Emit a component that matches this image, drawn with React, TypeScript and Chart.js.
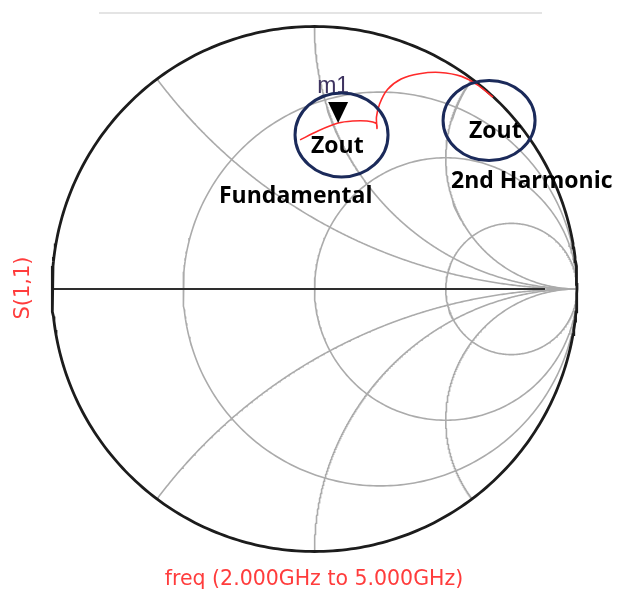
import React, { useEffect, useRef } from "react";
import { Chart, registerables } from "chart.js";

Chart.register(...registerables);

// ---- Smith chart grid values ----
const resistanceCircles = [0.333, 1, 3];
const reactanceArcs = [0.5, 1, 2, -0.5, -1, -2];

// ---- S(1,1) trace, reflection coefficient (real, imag), 2 GHz -> 5 GHz ----
const traceRe = [-0.055, 0.013, 0.09, 0.145, 0.2, 0.236, 0.238, 0.236, 0.248, 0.278, 0.33, 0.4, 0.478, 0.56, 0.625, 0.68];
const traceIm = [0.568, 0.602, 0.632, 0.64, 0.64, 0.63, 0.612, 0.655, 0.705, 0.76, 0.8, 0.82, 0.825, 0.81, 0.775, 0.731];
const markerIndex = 2; // m1

// ---- labels ----
const markerLabel = "m1";
const yTitle = "S(1,1)";
const xTitle = "freq (2.000GHz to 5.000GHz)";
const zoutLabel = "Zout";
const fundamentalLabel = "Fundamental";
const harmonicLabel = "2nd Harmonic";

// annotation ellipses in reflection-coefficient coordinates
const ellipseCentersRe = [0.103, 0.665];
const ellipseCentersIm = [0.587, 0.642];

const W = 618;
const H = 596;
const CX = 314.5;
const CY = 289;
const R = 262.5;

function rCirclePoints(r: number) {
  const c = r / (r + 1);
  const rad = 1 / (r + 1);
  const pts: { x: number; y: number }[] = [];
  for (let i = 0; i <= 360; i++) {
    const t = (i / 360) * Math.PI * 2;
    pts.push({ x: c + rad * Math.cos(t), y: rad * Math.sin(t) });
  }
  return pts;
}

function xArcPoints(x: number) {
  const pts: { x: number; y: number }[] = [];
  for (let i = 0; i <= 400; i++) {
    const r = Math.tan((i / 400) * 0.9995 * (Math.PI / 2));
    const d = (r + 1) * (r + 1) + x * x;
    pts.push({ x: (r * r + x * x - 1) / d, y: (2 * x) / d });
  }
  return pts;
}

export default function App() {
  const ref = useRef<HTMLCanvasElement | null>(null);

  useEffect(() => {
    if (!ref.current) return;
    const gridColor = "#ababab";
    const datasets: any[] = [];

    datasets.push({
      label: "trace",
      data: traceRe.map((v, i) => ({ x: v, y: traceIm[i] })),
      showLine: true,
      borderColor: "#ff2a2a",
      borderWidth: 1.6,
      pointRadius: 0,
      tension: 0.25,
      order: 0,
    });
    datasets.push({
      label: "outer",
      data: rCirclePoints(0),
      showLine: true,
      borderColor: "#1c1c1c",
      borderWidth: 2.8,
      pointRadius: 0,
      order: 1,
    });
    datasets.push({
      label: "axis",
      data: [
        { x: -1, y: 0 },
        { x: 0.878, y: 0 },
      ],
      showLine: true,
      borderColor: "#2e2e2e",
      borderWidth: 2,
      pointRadius: 0,
      order: 2,
    });
    resistanceCircles.forEach((r) =>
      datasets.push({
        label: "r" + r,
        data: rCirclePoints(r),
        showLine: true,
        borderColor: gridColor,
        borderWidth: 1.6,
        pointRadius: 0,
        order: 3,
      })
    );
    reactanceArcs.forEach((x) =>
      datasets.push({
        label: "x" + x,
        data: xArcPoints(x),
        showLine: true,
        borderColor: gridColor,
        borderWidth: 1.6,
        pointRadius: 0,
        order: 3,
      })
    );

    const overlay = {
      id: "overlay",
      afterDatasetsDraw(chart: any) {
        const ctx = chart.ctx as CanvasRenderingContext2D;
        const xs = chart.scales.x;
        const ys = chart.scales.y;
        const px = (v: number) => xs.getPixelForValue(v);
        const py = (v: number) => ys.getPixelForValue(v);
        ctx.save();

        // faint line at top
        ctx.strokeStyle = "#e4e4e4";
        ctx.lineWidth = 2;
        ctx.beginPath();
        ctx.moveTo(99, 13);
        ctx.lineTo(542, 13);
        ctx.stroke();

        // marker triangle
        const pt = chart.getDatasetMeta(0).data[markerIndex];
        ctx.fillStyle = "#000";
        ctx.beginPath();
        ctx.moveTo(pt.x, pt.y);
        ctx.lineTo(pt.x - 10, pt.y - 21);
        ctx.lineTo(pt.x + 10, pt.y - 21);
        ctx.closePath();
        ctx.fill();
        ctx.fillStyle = "#3e3360";
        ctx.font = "23px 'Liberation Sans', Arial, sans-serif";
        ctx.textAlign = "left";
        ctx.textBaseline = "alphabetic";
        ctx.fillText(markerLabel, pt.x - 21, pt.y - 30);

        // ellipses
        ctx.strokeStyle = "#1b2a5a";
        ctx.lineWidth = 3;
        const rx = [46.5, 46];
        const ry = [42, 40];
        ellipseCentersRe.forEach((re, i) => {
          ctx.beginPath();
          ctx.ellipse(px(re), py(ellipseCentersIm[i]), rx[i], ry[i], 0, 0, Math.PI * 2);
          ctx.stroke();
        });

        // labels
        ctx.fillStyle = "#000";
        ctx.font = "bold 23px 'Open Sans', sans-serif";
        ctx.textAlign = "left";
        ctx.fillText(zoutLabel, 311, 153);
        ctx.fillText(zoutLabel, 469, 138);
        ctx.fillText(fundamentalLabel, 219, 203);
        ctx.fillText(harmonicLabel, 451, 188);

        // axis titles
        ctx.fillStyle = "#ff3c3c";
        ctx.font = "20.5px 'DejaVu Sans', sans-serif";
        ctx.textAlign = "center";
        ctx.fillText(xTitle, 314, 585);
        ctx.save();
        ctx.translate(29, 288);
        ctx.rotate(-Math.PI / 2);
        ctx.font = "21px 'DejaVu Sans', sans-serif";
        ctx.fillText(yTitle, 0, 0);
        ctx.restore();

        ctx.restore();
      },
    };

    const chart = new Chart(ref.current, {
      type: "scatter",
      data: { datasets },
      options: {
        animation: false,
        responsive: false,
        events: [],
        layout: { padding: 0 },
        plugins: { legend: { display: false }, tooltip: { enabled: false } },
        scales: {
          x: { type: "linear", display: false, min: (0 - CX) / R, max: (W - CX) / R },
          y: { type: "linear", display: false, min: (CY - H) / R, max: CY / R },
        },
      },
      plugins: [overlay],
    });
    return () => chart.destroy();
  }, []);

  return (
    <div style={{ position: "fixed", left: 0, top: 0, width: W, height: H, background: "#fff" }}>
      <canvas ref={ref} width={W} height={H} style={{ display: "block", width: W, height: H }} />
    </div>
  );
}
